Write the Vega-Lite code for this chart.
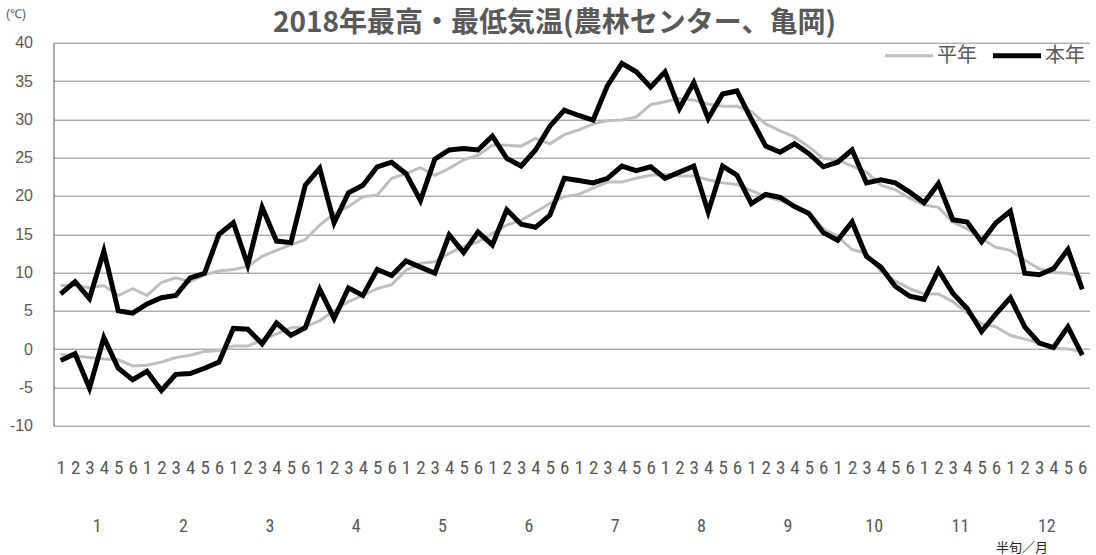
{
  "$schema": "https://vega.github.io/schema/vega-lite/v6.json",
  "width": 1036,
  "height": 383,
  "autosize": "none",
  "padding": {"left": 53.5, "top": 42.7, "right": 6.5, "bottom": 129.3},
  "title": {"text": "2018年最高・最低気温(農林センター、亀岡)", "anchor": "middle", "fontSize": 28, "font": "Noto Sans CJK JP", "fontWeight": "bold", "color": "#595959", "baseline": "alphabetic", "offset": 0, "dy": 52, "dx": -17},
  "config": {"view": {"stroke": null}, "font": "Liberation Sans"},
  "datasets": {
    "nmax": [{"i":1,"v":8.3},{"i":2,"v":8.3},{"i":3,"v":8.0},{"i":4,"v":8.3},{"i":5,"v":7.0},{"i":6,"v":7.9},{"i":7,"v":7.0},{"i":8,"v":8.7},{"i":9,"v":9.3},{"i":10,"v":8.8},{"i":11,"v":9.7},{"i":12,"v":10.2},{"i":13,"v":10.4},{"i":14,"v":10.8},{"i":15,"v":12.1},{"i":16,"v":12.9},{"i":17,"v":13.6},{"i":18,"v":14.3},{"i":19,"v":16.2},{"i":20,"v":17.7},{"i":21,"v":18.6},{"i":22,"v":19.9},{"i":23,"v":20.1},{"i":24,"v":22.3},{"i":25,"v":22.9},{"i":26,"v":23.7},{"i":27,"v":22.7},{"i":28,"v":23.6},{"i":29,"v":24.7},{"i":30,"v":25.3},{"i":31,"v":26.6},{"i":32,"v":26.6},{"i":33,"v":26.5},{"i":34,"v":27.5},{"i":35,"v":26.8},{"i":36,"v":28.0},{"i":37,"v":28.6},{"i":38,"v":29.4},{"i":39,"v":29.8},{"i":40,"v":29.9},{"i":41,"v":30.3},{"i":42,"v":31.9},{"i":43,"v":32.3},{"i":44,"v":32.7},{"i":45,"v":32.5},{"i":46,"v":32.0},{"i":47,"v":31.7},{"i":48,"v":31.7},{"i":49,"v":31.0},{"i":50,"v":29.4},{"i":51,"v":28.5},{"i":52,"v":27.7},{"i":53,"v":26.4},{"i":54,"v":24.9},{"i":55,"v":24.7},{"i":56,"v":23.9},{"i":57,"v":23.1},{"i":58,"v":21.4},{"i":59,"v":20.8},{"i":60,"v":19.7},{"i":61,"v":18.8},{"i":62,"v":18.5},{"i":63,"v":16.6},{"i":64,"v":15.7},{"i":65,"v":14.4},{"i":66,"v":13.3},{"i":67,"v":12.9},{"i":68,"v":11.6},{"i":69,"v":10.5},{"i":70,"v":10.0},{"i":71,"v":9.9},{"i":72,"v":9.4}],
    "nmin": [{"i":1,"v":-0.7},{"i":2,"v":-0.9},{"i":3,"v":-1.1},{"i":4,"v":-1.3},{"i":5,"v":-1.4},{"i":6,"v":-2.2},{"i":7,"v":-2.1},{"i":8,"v":-1.7},{"i":9,"v":-1.1},{"i":10,"v":-0.8},{"i":11,"v":-0.3},{"i":12,"v":-0.2},{"i":13,"v":0.4},{"i":14,"v":0.4},{"i":15,"v":1.2},{"i":16,"v":2.0},{"i":17,"v":2.8},{"i":18,"v":2.9},{"i":19,"v":3.7},{"i":20,"v":5.0},{"i":21,"v":6.2},{"i":22,"v":7.0},{"i":23,"v":7.9},{"i":24,"v":8.4},{"i":25,"v":10.3},{"i":26,"v":11.2},{"i":27,"v":11.4},{"i":28,"v":12.5},{"i":29,"v":13.4},{"i":30,"v":14.0},{"i":31,"v":15.1},{"i":32,"v":16.2},{"i":33,"v":16.8},{"i":34,"v":17.9},{"i":35,"v":19.0},{"i":36,"v":19.9},{"i":37,"v":20.2},{"i":38,"v":21.0},{"i":39,"v":21.8},{"i":40,"v":21.8},{"i":41,"v":22.3},{"i":42,"v":22.7},{"i":43,"v":22.8},{"i":44,"v":22.6},{"i":45,"v":22.6},{"i":46,"v":22.1},{"i":47,"v":21.7},{"i":48,"v":21.5},{"i":49,"v":20.7},{"i":50,"v":19.9},{"i":51,"v":19.4},{"i":52,"v":18.8},{"i":53,"v":17.7},{"i":54,"v":15.7},{"i":55,"v":14.7},{"i":56,"v":13.0},{"i":57,"v":12.5},{"i":58,"v":10.1},{"i":59,"v":8.9},{"i":60,"v":7.9},{"i":61,"v":7.2},{"i":62,"v":7.2},{"i":63,"v":6.2},{"i":64,"v":4.7},{"i":65,"v":3.3},{"i":66,"v":2.9},{"i":67,"v":1.8},{"i":68,"v":1.3},{"i":69,"v":0.8},{"i":70,"v":0.1},{"i":71,"v":0.0},{"i":72,"v":-0.3}],
    "tmax": [{"i":1,"v":7.2},{"i":2,"v":8.8},{"i":3,"v":6.6},{"i":4,"v":12.8},{"i":5,"v":5.0},{"i":6,"v":4.7},{"i":7,"v":5.9},{"i":8,"v":6.7},{"i":9,"v":7.0},{"i":10,"v":9.3},{"i":11,"v":9.9},{"i":12,"v":15.0},{"i":13,"v":16.5},{"i":14,"v":11.0},{"i":15,"v":18.5},{"i":16,"v":14.1},{"i":17,"v":13.9},{"i":18,"v":21.4},{"i":19,"v":23.6},{"i":20,"v":16.5},{"i":21,"v":20.4},{"i":22,"v":21.4},{"i":23,"v":23.8},{"i":24,"v":24.4},{"i":25,"v":22.9},{"i":26,"v":19.4},{"i":27,"v":24.8},{"i":28,"v":26.0},{"i":29,"v":26.2},{"i":30,"v":26.0},{"i":31,"v":27.8},{"i":32,"v":24.9},{"i":33,"v":23.9},{"i":34,"v":26.0},{"i":35,"v":29.1},{"i":36,"v":31.2},{"i":37,"v":30.5},{"i":38,"v":29.9},{"i":39,"v":34.4},{"i":40,"v":37.3},{"i":41,"v":36.2},{"i":42,"v":34.2},{"i":43,"v":36.2},{"i":44,"v":31.4},{"i":45,"v":34.8},{"i":46,"v":30.1},{"i":47,"v":33.3},{"i":48,"v":33.7},{"i":49,"v":30.0},{"i":50,"v":26.5},{"i":51,"v":25.7},{"i":52,"v":26.8},{"i":53,"v":25.5},{"i":54,"v":23.8},{"i":55,"v":24.4},{"i":56,"v":26.0},{"i":57,"v":21.7},{"i":58,"v":22.1},{"i":59,"v":21.7},{"i":60,"v":20.5},{"i":61,"v":19.1},{"i":62,"v":21.6},{"i":63,"v":16.9},{"i":64,"v":16.6},{"i":65,"v":14.0},{"i":66,"v":16.5},{"i":67,"v":18.0},{"i":68,"v":9.9},{"i":69,"v":9.7},{"i":70,"v":10.5},{"i":71,"v":13.0},{"i":72,"v":7.8}],
    "tmin": [{"i":1,"v":-1.5},{"i":2,"v":-0.6},{"i":3,"v":-5.1},{"i":4,"v":1.5},{"i":5,"v":-2.5},{"i":6,"v":-4.0},{"i":7,"v":-2.9},{"i":8,"v":-5.4},{"i":9,"v":-3.3},{"i":10,"v":-3.2},{"i":11,"v":-2.5},{"i":12,"v":-1.7},{"i":13,"v":2.7},{"i":14,"v":2.6},{"i":15,"v":0.7},{"i":16,"v":3.4},{"i":17,"v":1.8},{"i":18,"v":2.8},{"i":19,"v":7.8},{"i":20,"v":4.0},{"i":21,"v":8.0},{"i":22,"v":7.0},{"i":23,"v":10.4},{"i":24,"v":9.6},{"i":25,"v":11.5},{"i":26,"v":10.7},{"i":27,"v":9.9},{"i":28,"v":14.9},{"i":29,"v":12.6},{"i":30,"v":15.3},{"i":31,"v":13.6},{"i":32,"v":18.2},{"i":33,"v":16.3},{"i":34,"v":15.9},{"i":35,"v":17.5},{"i":36,"v":22.3},{"i":37,"v":22.0},{"i":38,"v":21.7},{"i":39,"v":22.3},{"i":40,"v":23.9},{"i":41,"v":23.3},{"i":42,"v":23.8},{"i":43,"v":22.3},{"i":44,"v":23.1},{"i":45,"v":23.9},{"i":46,"v":17.9},{"i":47,"v":23.9},{"i":48,"v":22.7},{"i":49,"v":19.0},{"i":50,"v":20.2},{"i":51,"v":19.8},{"i":52,"v":18.6},{"i":53,"v":17.7},{"i":54,"v":15.2},{"i":55,"v":14.2},{"i":56,"v":16.6},{"i":57,"v":12.1},{"i":58,"v":10.7},{"i":59,"v":8.2},{"i":60,"v":6.9},{"i":61,"v":6.5},{"i":62,"v":10.3},{"i":63,"v":7.3},{"i":64,"v":5.3},{"i":65,"v":2.3},{"i":66,"v":4.6},{"i":67,"v":6.7},{"i":68,"v":2.9},{"i":69,"v":0.8},{"i":70,"v":0.2},{"i":71,"v":2.9},{"i":72,"v":-0.8}]
  },
  "resolve": {"axis": {"x": "independent"}},
  "encoding": {
    "y": {"field": "v", "type": "quantitative", "scale": {"domain": [-10, 40], "nice": false, "zero": false},
      "axis": {"values": [-10,-5,0,5,10,15,20,25,30,35,40], "labelExpr": "'' + datum.value", "labelOverlap": false,
        "title": "(℃)", "titleAngle": 0, "titleX": -48, "titleY": -29,
        "titleAlign": "left", "titleBaseline": "middle", "titleFontSize": 12, "titleFontWeight": "normal", "titleColor": "#595959",
        "labelFontSize": 16, "labelColor": "#595959", "labelPadding": 21, "ticks": false, "tickSize": 0,
        "domainColor": "#595959", "gridColor": "#8c8c8c", "labelFont": "Liberation Sans"}}
  },
  "layer": [
    {
      "data": {"name": "nmax"},
      "mark": {"type": "line", "strokeWidth": 3},
      "encoding": {
        "x": {"field": "i", "type": "quantitative", "scale": {"domain": [0.5, 72.5], "nice": false, "zero": false},
          "axis": {"values": [1,2,3,4,5,6,7,8,9,10,11,12,13,14,15,16,17,18,19,20,21,22,23,24,25,26,27,28,29,30,31,32,33,34,35,36,37,38,39,40,41,42,43,44,45,46,47,48,49,50,51,52,53,54,55,56,57,58,59,60,61,62,63,64,65,66,67,68,69,70,71,72],
            "labelExpr": "(datum.value - 1) % 6 + 1", "grid": false, "domain": false, "ticks": false, "tickSize": 0,
            "labelPadding": 42, "labelBaseline": "middle", "labelFontSize": 19, "labelFont": "Liberation Sans Narrow, Roboto Condensed, Liberation Sans",
            "labelColor": "#595959", "labelAngle": 0, "labelOverlap": false, "labelBound": false, "labelFlush": false, "title": null}},
        "color": {"datum": "平年", "type": "nominal",
          "scale": {"domain": ["平年", "本年"], "range": ["#BFBFBF", "#000000"]},
          "legend": {"orient": "none", "legendX": 845.5, "legendY": 3, "direction": "horizontal", "title": null,
            "symbolType": "stroke", "symbolSize": 2304, "symbolStrokeWidth": 5, "labelFontSize": 20, "labelFont": "Noto Sans CJK JP",
            "labelColor": "#595959", "columnPadding": 6, "labelOffset": 18,
            "encode": {"symbols": {"update": {"strokeWidth": {"signal": "datum.value === '本年' ? 5 : 3"}}}}}}
      }
    },
    {
      "data": {"name": "nmin"},
      "mark": {"type": "line", "strokeWidth": 3},
      "encoding": {
        "x": {"field": "i", "type": "quantitative",
          "axis": {"orient": "bottom", "values": [3.5,9.5,15.5,21.5,27.5,33.5,39.5,45.5,51.5,57.5,63.5,69.5],
            "labelExpr": "(datum.value + 2.5) / 6", "grid": false, "domain": false, "ticks": false, "tickSize": 0,
            "labelPadding": 101, "labelBaseline": "middle", "labelFontSize": 18, "labelFont": "Liberation Sans Narrow, Roboto Condensed, Liberation Sans",
            "labelColor": "#595959", "labelAngle": 0, "labelOverlap": false, "labelBound": false, "labelFlush": false,
            "title": "半旬／月", "titleX": 968, "titleY": 122, "titleAlign": "center", "titleBaseline": "middle",
            "titleFontSize": 13, "titleFontWeight": "normal", "titleColor": "#262626", "titleFont": "Noto Sans CJK JP"}},
        "color": {"datum": "平年", "type": "nominal"}
      }
    },
    {
      "data": {"name": "tmax"},
      "mark": {"type": "line", "strokeWidth": 5},
      "encoding": {
        "x": {"field": "i", "type": "quantitative", "axis": null},
        "color": {"datum": "本年", "type": "nominal"}
      }
    },
    {
      "data": {"name": "tmin"},
      "mark": {"type": "line", "strokeWidth": 5},
      "encoding": {
        "x": {"field": "i", "type": "quantitative", "axis": null},
        "color": {"datum": "本年", "type": "nominal"}
      }
    }
  ]
}
